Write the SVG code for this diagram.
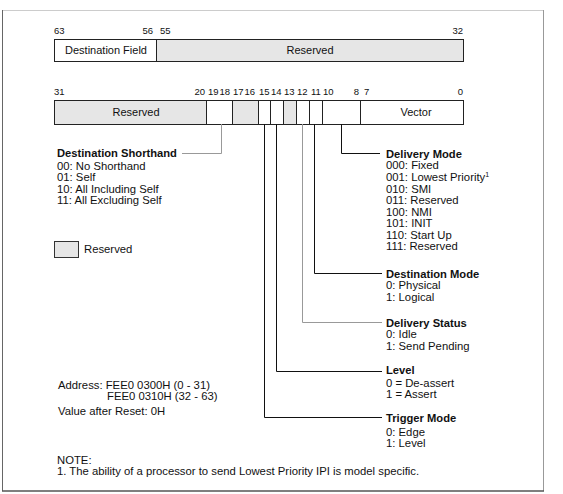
<svg xmlns="http://www.w3.org/2000/svg" width="563" height="494" viewBox="0 0 563 494">
<style>
text{font-family:"Liberation Sans",Arial,sans-serif;font-size:11.3px;fill:#111}
.b{font-weight:bold;font-size:11.2px}
.r{font-size:11px}
.n{font-size:9.5px}
.e{text-anchor:end}
.m{text-anchor:middle}
.box{stroke:#222;stroke-width:1}
.res{fill:#e6e6e6}
.wh{fill:#fff}
.blk{stroke:#111;stroke-width:1;fill:none}
.gry{stroke:#999;stroke-width:1;fill:none}
</style>
<rect width="563" height="494" fill="#fff"/>
<g id="frame">
<line x1="2" y1="10.5" x2="543" y2="10.5" stroke="#ccc"/>
<line x1="2.5" y1="10" x2="2.5" y2="491" stroke="#666"/>
<line x1="543.5" y1="10" x2="543.5" y2="491" stroke="#999"/>
<line x1="2" y1="491" x2="544" y2="491" stroke="#555" stroke-width="1.5"/>
</g>
<g id="reg-high">
<rect class="box wh" x="54.5" y="39.5" width="102" height="22"/>
<rect class="box res" x="156.5" y="39.5" width="307" height="22"/>
<text x="106" y="54" class="m r">Destination Field</text>
<text x="310" y="54" class="m r">Reserved</text>
<text class="n" x="54" y="34">63</text>
<text class="n e" x="153" y="34">56</text>
<text class="n" x="160" y="34">55</text>
<text class="n e" x="463" y="34">32</text>
</g>
<g id="reg-low">
<rect class="box res" x="54.5" y="100.5" width="152" height="24"/>
<rect class="box wh" x="206.5" y="100.5" width="26" height="24"/>
<rect class="box res" x="232.5" y="100.5" width="26" height="24"/>
<rect class="box wh" x="258.5" y="100.5" width="12" height="24"/>
<rect class="box wh" x="270.5" y="100.5" width="13" height="24"/>
<rect class="box res" x="283.5" y="100.5" width="13" height="24"/>
<rect class="box wh" x="296.5" y="100.5" width="13" height="24"/>
<rect class="box wh" x="309.5" y="100.5" width="13" height="24"/>
<rect class="box wh" x="322.5" y="100.5" width="38" height="24"/>
<rect class="box wh" x="360.5" y="100.5" width="103" height="24"/>
<text x="136" y="116" class="m r">Reserved</text>
<text x="416" y="116" class="m r">Vector</text>
<text class="n" x="54" y="95">31</text>
<text class="n e" x="205" y="95">20</text>
<text class="n" x="208" y="95">19</text>
<text class="n e" x="230" y="95">18</text>
<text class="n" x="233" y="95">17</text>
<text class="n e" x="255" y="95">16</text>
<text class="n" x="259" y="95">15</text>
<text class="n" x="271" y="95">14</text>
<text class="n" x="284" y="95">13</text>
<text class="n" x="297" y="95">12</text>
<text class="n" x="311" y="95">11</text>
<text class="n" x="323" y="95">10</text>
<text class="n e" x="359" y="95">8</text>
<text class="n" x="364" y="95">7</text>
<text class="n e" x="463" y="95">0</text>
</g>
<g id="connectors">
<polyline class="gry" points="221.5,124 221.5,153.5 182,153.5"/>
<polyline class="blk" points="264.5,124 264.5,417.5 382,417.5"/>
<polyline class="blk" points="276.5,124 276.5,371.5 382,371.5"/>
<polyline class="gry" points="302.5,124 302.5,322.5 382,322.5"/>
<polyline class="blk" points="314.5,124 314.5,273.5 382,273.5"/>
<polyline class="blk" points="341.5,124 341.5,153.5 380,153.5"/>
</g>
<g id="dest-shorthand">
<text class="b" x="57" y="157">Destination Shorthand</text>
<text x="57" y="170">00: No Shorthand</text>
<text x="57" y="181">01: Self</text>
<text x="57" y="193">10: All Including Self</text>
<text x="57" y="204">11: All Excluding Self</text>
</g>
<g id="legend">
<rect class="res" x="54.5" y="241.5" width="24" height="16" stroke="#333"/>
<text x="84" y="253">Reserved</text>
</g>
<g id="delivery-mode">
<text class="b" x="386" y="158">Delivery Mode</text>
<text x="386" y="169">000: Fixed</text>
<text x="386" y="181">001: Lowest Priority<tspan font-size="7" dy="-4">1</tspan></text>
<text x="386" y="193">010: SMI</text>
<text x="386" y="204">011: Reserved</text>
<text x="386" y="216">100: NMI</text>
<text x="386" y="227">101: INIT</text>
<text x="386" y="239">110: Start Up</text>
<text x="386" y="250">111: Reserved</text>
</g>
<g id="dest-mode">
<text class="b" x="386" y="278">Destination Mode</text>
<text x="386" y="289">0: Physical</text>
<text x="386" y="301">1: Logical</text>
</g>
<g id="delivery-status">
<text class="b" x="386" y="327">Delivery Status</text>
<text x="386" y="338">0: Idle</text>
<text x="386" y="350">1: Send Pending</text>
</g>
<g id="level">
<text class="b" x="386" y="374">Level</text>
<text x="386" y="387">0 = De-assert</text>
<text x="386" y="398">1 = Assert</text>
</g>
<g id="trigger-mode">
<text class="b" x="386" y="422">Trigger Mode</text>
<text x="386" y="436">0: Edge</text>
<text x="386" y="447">1: Level</text>
</g>
<g id="address">
<text x="58" y="389">Address: FEE0 0300H (0 - 31)</text>
<text x="107" y="400">FEE0 0310H (32 - 63)</text>
<text x="58" y="415">Value after Reset: 0H</text>
</g>
<g id="note">
<text x="57" y="464">NOTE:</text>
<text x="57" y="475">1. The ability of a processor to send Lowest Priority IPI is model specific.</text>
</g>
</svg>
